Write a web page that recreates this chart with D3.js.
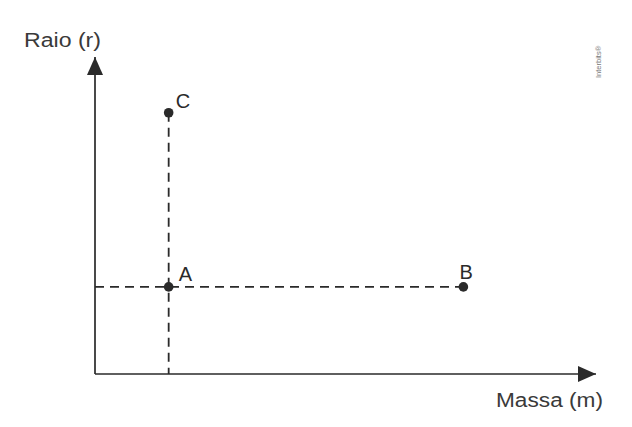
<!DOCTYPE html>
<html><head><meta charset="utf-8">
<script src="https://cdn.jsdelivr.net/npm/d3@7"></script>
<style>body{margin:0;background:#fff}svg{display:block}</style>
</head><body>
<script>
// Data
const pointNames = ["A", "B", "C"];
const massa = [1, 5, 1];
const raio = [1, 1, 3];
const xAxisLabel = "Massa (m)";
const yAxisLabel = "Raio (r)";
const credit = "Interbits®";

const W = 632, H = 427;
const svg = d3.select("body").append("svg").attr("width", W).attr("height", H);
svg.append("rect").attr("width", W).attr("height", H).attr("fill", "#fff");

const x = d3.scaleLinear().domain([0, 6.8]).range([95, 596]);
const y = d3.scaleLinear().domain([0, 3.64]).range([374, 57]);
const ink = "#2a2a2a";

const defs = svg.append("defs");
defs.append("marker").attr("id", "arr").attr("viewBox", "0 0 18 16")
  .attr("refX", 18).attr("refY", 8).attr("markerWidth", 18).attr("markerHeight", 16)
  .attr("markerUnits", "userSpaceOnUse").attr("orient", "auto")
  .append("path").attr("d", "M0,0 L18,8 L0,16 Z").attr("fill", ink);

const pts = pointNames.map((n, i) => ({ name: n, m: massa[i], r: raio[i] }));
const A = pts[0], B = pts[1], C = pts[2];

// dashed guides
svg.append("line").attr("x1", x(0)).attr("x2", x(B.m)).attr("y1", y(A.r)).attr("y2", y(A.r))
  .attr("stroke", ink).attr("stroke-width", 1.8).attr("stroke-dasharray", "9,6");
svg.append("line").attr("x1", x(C.m)).attr("x2", x(C.m)).attr("y1", y(C.r)).attr("y2", y(0))
  .attr("stroke", ink).attr("stroke-width", 1.8).attr("stroke-dasharray", "9,6");

// axes
svg.append("line").attr("x1", x(0)).attr("y1", y(0)).attr("x2", x(6.8)).attr("y2", y(0))
  .attr("stroke", ink).attr("stroke-width", 1.7).attr("marker-end", "url(#arr)");
svg.append("line").attr("x1", x(0)).attr("y1", y(0)).attr("x2", x(0)).attr("y2", y(3.64))
  .attr("stroke", ink).attr("stroke-width", 1.7).attr("marker-end", "url(#arr)");

// points
svg.selectAll("circle.pt").data(pts).join("circle").attr("class", "pt")
  .attr("cx", d => x(d.m)).attr("cy", d => y(d.r)).attr("r", 4.8).attr("fill", ink);

const offs = { A: [10, -6], B: [-4, -8], C: [7, -5] };
svg.selectAll("text.lbl").data(pts).join("text").attr("class", "lbl")
  .attr("x", d => x(d.m) + offs[d.name][0]).attr("y", d => y(d.r) + offs[d.name][1])
  .attr("font-family", "Liberation Sans, Arial, sans-serif").attr("font-size", 20)
  .attr("fill", ink).text(d => d.name);

// axis labels
svg.append("text").attr("x", 24).attr("y", 47).attr("font-family", "Liberation Sans, Arial, sans-serif")
  .attr("font-size", 20).attr("fill", "#3a3a3a").attr("textLength", 77).attr("lengthAdjust", "spacingAndGlyphs")
  .text(yAxisLabel);
svg.append("text").attr("x", 496).attr("y", 407).attr("font-family", "Liberation Sans, Arial, sans-serif")
  .attr("font-size", 20).attr("fill", "#3a3a3a").attr("textLength", 107).attr("lengthAdjust", "spacingAndGlyphs")
  .text(xAxisLabel);

// credit
svg.append("text").attr("transform", "translate(601,78) rotate(-90)")
  .attr("font-family", "Liberation Sans, Arial, sans-serif").attr("font-size", 7.5)
  .attr("fill", "#777").text(credit);
</script>
</body></html>
